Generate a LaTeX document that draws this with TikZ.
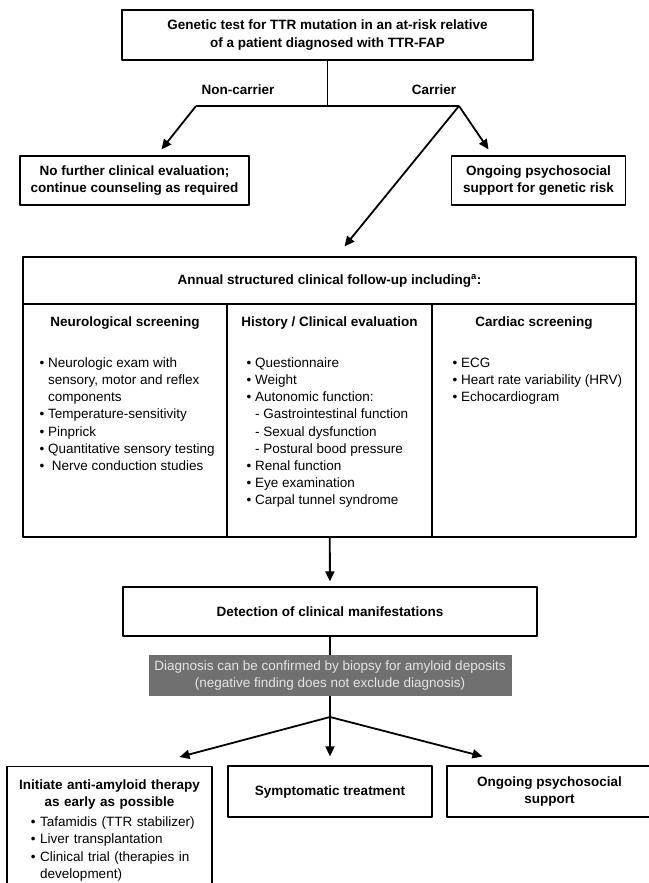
\documentclass[tikz,border=0pt]{standalone}
\usepackage{fontspec}
\setmainfont{Liberation Sans}
\usetikzlibrary{arrows.meta}
\definecolor{notegray}{RGB}{112,112,112}
\definecolor{notetext}{RGB}{228,228,228}
\newcommand{\basefont}{\fontsize{13.5pt}{17.2pt}\selectfont}
\newcommand{\bul}{\textbullet\ }
\newcommand{\skipbul}{\leavevmode\phantom{\textbullet\ }}
\tikzset{
  box/.style={draw, line width=1.2pt, align=center, inner sep=0pt, font=\basefont\bfseries},
  cell/.style={draw, line width=1.2pt, inner sep=0pt},
  lbl/.style={inner sep=0pt, font=\basefont\bfseries},
  lst/.style={align=left, anchor=north west, inner sep=0pt, font=\basefont},
  note/.style={fill=notegray, text=notetext, align=center, inner sep=0pt, font=\basefont},
  wire/.style={line width=1.8pt},
  arr/.style={->, line width=1.8pt},
}
\begin{document}
\begin{tikzpicture}[x=1pt, y=-1pt, >={Triangle[length=10pt,width=9pt]}, line join=round]
  \useasboundingbox (0,0) rectangle (648,883);
  % genetic test and its outcomes
  \node[box, minimum width=411pt, minimum height=50pt] (test) at (327.5,35) {Genetic test for TTR mutation in an at-risk relative\\of a patient diagnosed with TTR-FAP};
  \coordinate (split) at (327.5,106);
  \coordinate (noncar) at (196,106);
  \coordinate (car) at (459,106);
  \node[lbl] (noncarlbl) at (238,90) {Non-carrier};
  \node[lbl] (carlbl) at (434,90) {Carrier};
  \node[box, minimum width=229pt, minimum height=49pt] (nofurther) at (134.5,180.5) {No further clinical evaluation;\\continue counseling as required};
  \node[box, minimum width=174pt, minimum height=49pt] (riskcare) at (538.5,180.5) {Ongoing psychosocial\\support for genetic risk};
  % annual follow-up
  \node[box, minimum width=613pt, minimum height=47pt] (annual) at (329.5,280.5) {Annual structured clinical follow-up including\textsuperscript{a}:};
  \node[cell, minimum width=204pt, minimum height=233pt] (neuro) at (125,420.5) {};
  \node[cell, minimum width=205pt, minimum height=233pt] (hist) at (329.5,420.5) {};
  \node[cell, minimum width=204pt, minimum height=233pt] (card) at (534,420.5) {};
  \node[lbl] (neurohd) at ([yshift=-20pt]neuro.north) {Neurological screening};
  \node[lbl] (histhd) at ([yshift=-20pt]hist.north) {History / Clinical evaluation};
  \node[lbl] (cardhd) at ([yshift=-20pt]card.north) {Cardiac screening};
  \node[lst] (neurolst) at ([xshift=17pt,yshift=-54pt]neuro.north west) {\bul Neurologic exam with\\ \skipbul sensory, motor and reflex\\ \skipbul components\\ \bul Temperature-sensitivity\\ \bul Pinprick\\ \bul Quantitative sensory testing\\ \bul\ Nerve conduction studies};
  \node[lst] (histlst) at ([xshift=20pt,yshift=-54pt]hist.north west) {\bul Questionnaire\\ \bul Weight\\ \bul Autonomic function:\\ \skipbul- Gastrointestinal function\\ \skipbul- Sexual dysfunction\\ \skipbul- Postural bood pressure\\ \bul Renal function\\ \bul Eye examination\\ \bul Carpal tunnel syndrome};
  \node[lst] (cardlst) at ([xshift=21pt,yshift=-54pt]card.north west) {\bul ECG\\ \bul Heart rate variability (HRV)\\ \bul Echocardiogram};
  % detection and treatment
  \node[box, minimum width=414pt, minimum height=49pt] (detect) at (330,611.5) {Detection of clinical manifestations};
  \node[note, minimum width=363pt, minimum height=41pt] (biopsy) at (330,675.5) {Diagnosis can be confirmed by biopsy for amyloid deposits\\(negative finding does not exclude diagnosis)};
  \coordinate (fan) at (330,717);
  \node[box, anchor=north, text width=191pt, align=left, inner xsep=7pt, inner ysep=13pt] (therapy) at (109.5,766) {{\centering Initiate anti-amyloid therapy\\as early as possible\par}\mdseries\leftskip=17pt\vspace{3pt}\bul Tafamidis (TTR stabilizer)\\ \bul Liver transplantation\\ \bul Clinical trial (therapies in\\ \skipbul development)\par};
  \node[box, minimum width=204pt, minimum height=51pt] (sympt) at (330,791.5) {Symptomatic treatment};
  \node[box, minimum width=205pt, minimum height=51pt] (lifecare) at (549.5,791.5) {Ongoing psychosocial\\support};
  % connectors
  \draw[wire] (test) -- (split);
  \draw[wire] (noncar) -- (car);
  \draw[arr] (noncar) -- ([xshift=27pt,yshift=6pt]nofurther.north);
  \draw[arr] (car) -- ([xshift=-50pt,yshift=6pt]riskcare.north);
  \draw[arr] (car) -- ([xshift=15pt,yshift=10pt]annual.north);
  \draw[arr, shorten >=5pt] (hist) -- (detect);
  \draw[wire] (detect) -- (biopsy);
  \draw[wire] (biopsy) -- (fan);
  \draw[arr] (fan) -- ([xshift=70pt,yshift=9pt]therapy.north);
  \draw[arr] (fan) -- ([yshift=9pt]sympt.north);
  \draw[arr] (fan) -- ([xshift=-67pt,yshift=9pt]lifecare.north);
\end{tikzpicture}
\end{document}
